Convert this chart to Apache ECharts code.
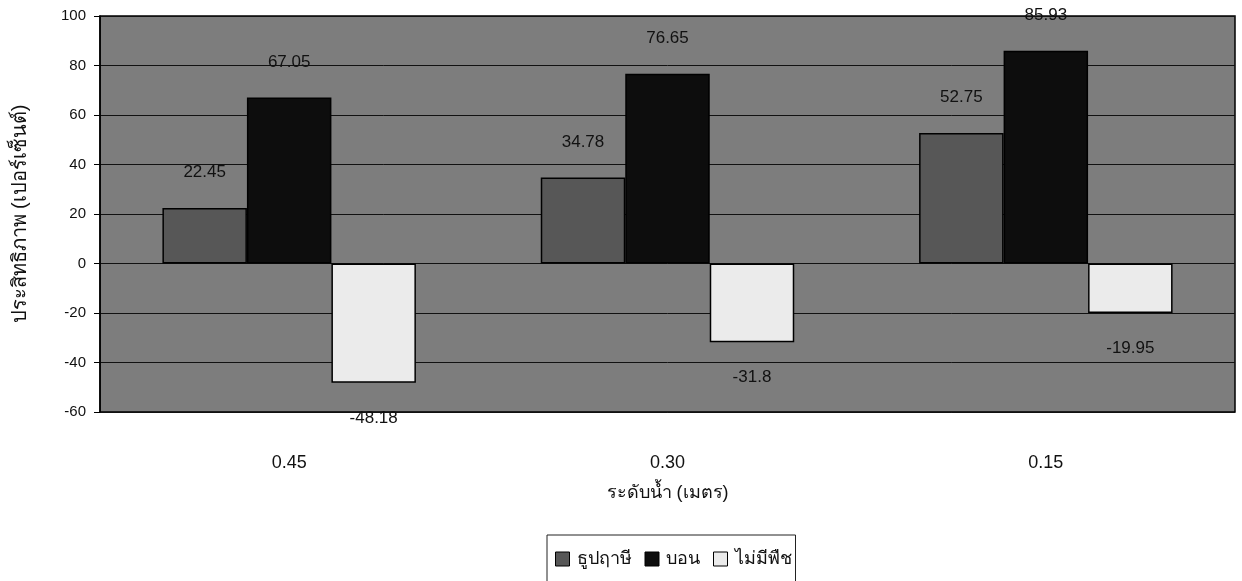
<!DOCTYPE html>
<html>
<head>
<meta charset="utf-8">
<script src="https://cdn.jsdelivr.net/npm/echarts@6/dist/echarts.min.js"></script>
<style>
  html, body { margin: 0; padding: 0; background: #ffffff; }
  #chart { width: 1242px; height: 581px; }
</style>
</head>
<body>
<div id="chart"></div>
<script>
// Water level categories (metres)
const levels = ['0.45', '0.30', '0.15'];
// Efficiency (%) per plant treatment
const cattail = [22.45, 34.78, 52.75];   // ธูปฤาษี
const taro = [67.05, 76.65, 85.93];      // บอน
const noPlant = [-48.18, -31.8, -19.95]; // ไม่มีพืช
const yTicks = { min: -60, max: 100, interval: 20 };

const font = '"Liberation Sans", Arial, "Noto Sans", sans-serif';

// Labels sit above positive bars and below negative ones
function withLabels(values) {
  return values.map(v => ({
    value: v,
    label: { position: v < 0 ? 'bottom' : 'top' }
  }));
}

function barSeries(name, values, color) {
  return {
    name: name,
    type: 'bar',
    data: withLabels(values),
    barGap: '0%',
    barCategoryGap: '33%',
    itemStyle: { color: color, borderColor: '#000', borderWidth: 1.5 },
    label: {
      show: true,
      distance: 27,
      color: '#111',
      fontFamily: font,
      fontSize: 17
    }
  };
}

const chart = echarts.init(document.getElementById('chart'), null, { renderer: 'canvas' });
chart.setOption({
  animation: false,
  backgroundColor: '#ffffff',
  textStyle: { fontFamily: font },
  grid: {
    left: 100, right: 7, top: 16, bottom: 169,
    show: true,
    backgroundColor: '#7d7d7d',
    borderColor: '#000',
    borderWidth: 1.5
  },
  legend: {
    top: 535,
    left: 547,
    itemWidth: 14,
    itemHeight: 14,
    itemGap: 13,
    padding: [15, 4, 24, 8],
    borderColor: '#222',
    borderWidth: 1,
    backgroundColor: '#fff',
    icon: 'rect',
    textStyle: { fontSize: 18, color: '#111', fontFamily: font, padding: [0, 0, 0, 2] },
    itemStyle: { borderColor: '#000', borderWidth: 1 },
    data: ['ธูปฤาษี', 'บอน', 'ไม่มีพืช']
  },
  xAxis: {
    type: 'category',
    data: levels,
    name: 'ระดับน้ำ (เมตร)',
    nameLocation: 'middle',
    nameGap: 72,
    nameTextStyle: { fontSize: 18, color: '#111', fontFamily: font },
    axisLine: { onZero: false, show: false },
    axisTick: { show: false },
    axisLabel: { margin: 42, fontSize: 18, color: '#111', fontFamily: font },
    splitLine: { show: false }
  },
  yAxis: {
    type: 'value',
    min: yTicks.min,
    max: yTicks.max,
    interval: yTicks.interval,
    name: 'ประสิทธิภาพ (เปอร์เซ็นต์)',
    nameLocation: 'middle',
    nameGap: 70,
    nameTextStyle: { fontSize: 20, color: '#111', fontFamily: font },
    axisLine: { show: true, lineStyle: { color: '#000', width: 1.5 } },
    axisTick: { show: true, inside: false, length: 6, lineStyle: { color: '#000' } },
    axisLabel: { margin: 14, fontSize: 15, color: '#111', fontFamily: font },
    splitLine: { show: true, lineStyle: { color: '#111', width: 1 } }
  },
  series: [
    barSeries('ธูปฤาษี', cattail, '#575757'),
    barSeries('บอน', taro, '#0d0d0d'),
    barSeries('ไม่มีพืช', noPlant, '#ebebeb')
  ]
});
</script>
</body>
</html>
